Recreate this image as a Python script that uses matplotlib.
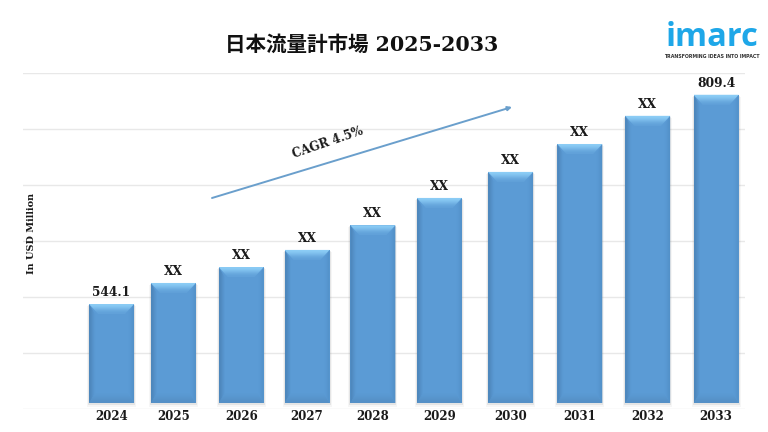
import numpy as np
import matplotlib
matplotlib.use('Agg')
import matplotlib.pyplot as plt
from matplotlib.colors import LinearSegmentedColormap
from matplotlib.patches import Polygon

years = ['2024', '2025', '2026', '2027', '2028', '2029', '2030', '2031', '2032', '2033']
values = [544.1, 570.8, 591.0, 612.7, 644.0, 678.6, 711.6, 747.0, 782.7, 809.4]
labels = ['544.1', 'XX', 'XX', 'XX', 'XX', 'XX', 'XX', 'XX', 'XX', '809.4']
# the bars in the picture are not evenly spaced
nudge = [0, -0.08, -0.07, -0.09, -0.11, -0.12, -0.06, -0.03, -0.02, 0]

SERIF = 'DejaVu Serif'
CJK = 'Noto Sans CJK JP'
W, H = 768, 432


def fx(px):
    return px / W


def fy(px):
    return 1 - px / H


fig = plt.figure(figsize=(7.68, 4.32), dpi=100)
ax = fig.add_axes([fx(23), fy(409), fx(745) - fx(23), fy(73) - fy(409)])
ax.set_xlim(-1.318, 9.43)
ax.set_ylim(411, 837)
base = 418.5
width = 0.67
x = np.arange(len(years)) + np.array(nudge)

# one pixel in data units, for the bevels
dx = 1 / 67.17
dy = 1 / 0.788

main = '#5b9bd5'
top_cmap = LinearSegmentedColormap.from_list('top', ['#8fd0f8', '#5f9fd8'])
left_cmap = LinearSegmentedColormap.from_list('left', ['#4d86bb', main])
right_cmap = LinearSegmentedColormap.from_list('right', [main, '#5290c8'])
bot_cmap = LinearSegmentedColormap.from_list('bot', [main, '#5590c6'])

for xi, v, lab in zip(x, values, labels):
    l, r = xi - width / 2, xi + width / 2
    # soft shadow
    for k, a in zip([2, 1], [0.06, 0.12]):
        ax.bar(xi, v - base + k * dy, width + 2 * k * dx, bottom=base - 2 * k * dy,
               color='#707070', alpha=a, linewidth=0, zorder=2)
    ax.bar(xi, v - base, width, bottom=base, color=main, linewidth=0, zorder=3)

    b = 9 * dx
    t = 10 * dy
    s = 6 * dx
    # bevels: bottom, left, right, top
    parts = [
        ([[l, base], [l + s, base + t], [r - s, base + t], [r, base]], bot_cmap, [[1], [0]], (l, r, base, base + t)),
        ([[l, v], [l + s, v - t], [l + s, base + t], [l, base]], left_cmap, [[0, 1]], (l, l + s, base, v)),
        ([[r, v], [r - s, v - t], [r - s, base + t], [r, base]], right_cmap, [[0, 1]], (r - s, r, base, v)),
        ([[l, v], [r, v], [r - b, v - t], [l + b, v - t]], top_cmap, [[1], [0]], (l, r, v - t, v)),
    ]
    for pts, cmap, grad, ext in parts:
        im = ax.imshow(grad, cmap=cmap, extent=ext, aspect='auto', origin='lower',
                       zorder=4, interpolation='bicubic', vmin=0, vmax=1)
        poly = Polygon(pts, transform=ax.transData, facecolor='none', edgecolor='none')
        ax.add_patch(poly)
        im.set_clip_path(poly)

    ax.text(xi, v + 6, lab, ha='center', va='bottom', family=SERIF, weight='bold',
            fontsize=8.8, color='#1a1a1a', zorder=5)

ax.set_xlim(-1.318, 9.43)
ax.set_ylim(411, 837)
ax.set_xticks(x, years, family=SERIF, fontweight='bold', fontsize=8.5, color='#1a1a1a')
ax.set_yticks(np.linspace(411, 837, 7), [])
ax.tick_params(length=0)
ax.tick_params(axis='x', pad=0.5)
ax.grid(axis='y', color='#e8e8e8', linewidth=1)
ax.set_axisbelow(True)
for s_ in ax.spines.values():
    s_.set_visible(False)

fig.text(fx(362), fy(44.5), '日本流量計市場 2025-2033', ha='center', va='center',
         family=[SERIF, CJK], weight='bold', fontsize=14.8, color='#111111')
fig.text(fx(31.5), fy(233), 'In USD Million', rotation=90, ha='center', va='center',
         family=SERIF, weight='bold', fontsize=7, color='#1a1a1a')

# CAGR arrow
ax.annotate('', xy=(fx(512), fy(107)), xytext=(fx(212), fy(198)),
            xycoords='figure fraction', textcoords='figure fraction',
            arrowprops=dict(arrowstyle='-|>', color='#6a9fcc', lw=1.4, mutation_scale=6,
                            shrinkA=0, shrinkB=0), zorder=6)
fig.text(fx(328), fy(143), 'CAGR 4.5%', rotation=19, ha='center', va='center',
         family=SERIF, weight='bold', fontsize=8.5, color='#1a1a1a')

# logo
logo = '#1ea7e8'
fig.text(fx(712.5), fy(53.5), 'imarc', ha='center', va='bottom', family='Open Sans',
         weight='bold', fontsize=23.5, color=logo)
fig.text(fx(712), fy(56.5), 'TRANSFORMING IDEAS INTO IMPACT', ha='center', va='center',
         family='DejaVu Sans', weight='bold', fontsize=3.4, color='#333333')

fig.savefig('out.png', dpi=100)
